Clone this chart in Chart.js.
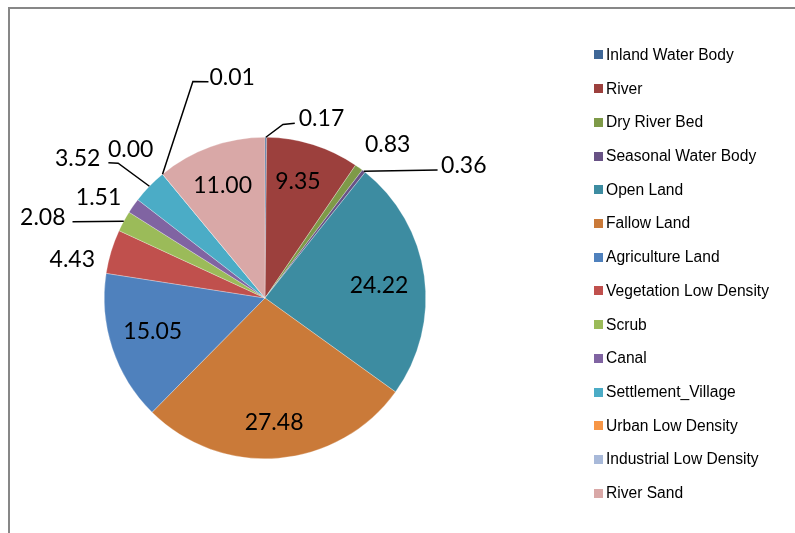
<!DOCTYPE html>
<html>
<head>
<meta charset="utf-8">
<script src="https://cdn.jsdelivr.net/npm/chart.js@4/dist/chart.umd.min.js"></script>
<style>
    html, body { margin: 0; padding: 0; background: #fff; overflow: hidden; }
    #wrap { position: relative; width: 795px; height: 533px; }
    #frame {
        position: absolute; left: 8px; top: 7px; width: 800px; height: 540px;
        border-top: 2px solid #878787; border-left: 2px solid #878787;
        box-sizing: border-box;
    }
    #pie { position: absolute; left: 0; top: 0; }
    #legend {
        position: absolute; left: 594px; top: 38px; margin: 0; padding: 0; list-style: none;
        font-family: "Liberation Sans", Arial, sans-serif; font-size: 15.6px; color: #000;
    }
    #legend li { height: 33.72px; display: flex; align-items: center; white-space: nowrap; }
    #legend span.box { width: 9px; height: 9px; margin-right: 3px; flex: none; }
</style>
</head>
<body>
<div id="wrap">
    <div id="frame"></div>
    <canvas id="pie" width="795" height="533"></canvas>
    <ul id="legend"></ul>
</div>
<script>
// land use classes and their share (%)
const categories = [
    'Inland Water Body', 'River', 'Dry River Bed', 'Seasonal Water Body', 'Open Land',
    'Fallow Land', 'Agriculture Land', 'Vegetation Low Density', 'Scrub', 'Canal',
    'Settlement_Village', 'Urban Low Density', 'Industrial Low Density', 'River Sand'
];
const shares = [0.17, 9.35, 0.83, 0.36, 24.22, 27.48, 15.05, 4.43, 2.08, 1.51, 3.52, 0.00, 0.01, 11.00];
const colors = [
    '#3F6797', '#9C403D', '#7E9A48', '#685285', '#3D8CA1', '#CA7A39',
    '#4F81BD', '#C0504D', '#9BBB59', '#8064A2', '#4BACC6', '#F79646',
    '#A8B9D9', '#D9A8A7'
];

// where each value label sits: k = radius factor, da = degrees off the slice middle
// leader: optional elbow (ek/eda), side = which side of the text the line touches
const labelSpots = [
    { k: 1.175, da: 17.1, leader: { ek: 1.085, eda: 5.6 }, side: 'left', gap: 4 },
    { k: 0.76, da: -1.8 },
    { k: 1.227, da: 2.7 },
    { k: 1.49, da: 18.2, leader: {}, side: 'left', gap: 3.5 },
    { k: 0.714, da: 1.3 },
    { k: 0.77, da: 0.6 },
    { k: 0.727, da: 2.2 },
    { k: 1.224, da: -5.2 },
    { k: 1.473, da: -8.3, leader: {}, side: 'right', gap: 7 },
    { k: 1.214, da: -3.5 },
    { k: 1.458, da: -7.1, leader: { ek: 1.24, eda: -1.5 }, side: 'right', gap: 8 },
    { k: 1.25, da: -2.3 },
    { k: 1.395, da: 31.2, leader: { ek: 1.42, eda: 21.2 }, side: 'left', gap: 1 },
    { k: 0.756, da: -0.6 }
];

const valueLabels = {
    id: 'valueLabels',
    afterDatasetsDraw(chart) {
        const ctx = chart.ctx;
        const meta = chart.getDatasetMeta(0);
        ctx.save();
        ctx.font = '23px Lato';
        ctx.fillStyle = '#000';
        ctx.strokeStyle = '#000';
        ctx.lineWidth = 1.5;
        meta.data.forEach((arc, i) => {
            const p = arc.getProps(['x', 'y', 'startAngle', 'endAngle', 'outerRadius'], true);
            const mid = (p.startAngle + p.endAngle) / 2;
            const spot = labelSpots[i];
            const text = shares[i].toFixed(2);
            const a = mid + spot.da * Math.PI / 180;
            const cx = p.x + p.outerRadius * spot.k * Math.cos(a);
            const cy = p.y + p.outerRadius * spot.k * Math.sin(a);
            const m = ctx.measureText(text);
            const w = m.width;
            const base = cy + (m.actualBoundingBoxAscent - m.actualBoundingBoxDescent) / 2;
            ctx.textAlign = 'center';
            ctx.fillText(text, cx, base);

            if (spot.leader) {
                ctx.beginPath();
                ctx.moveTo(p.x + p.outerRadius * Math.cos(mid), p.y + p.outerRadius * Math.sin(mid));
                if (spot.leader.ek) {
                    const ea = mid + spot.leader.eda * Math.PI / 180;
                    ctx.lineTo(p.x + p.outerRadius * spot.leader.ek * Math.cos(ea),
                               p.y + p.outerRadius * spot.leader.ek * Math.sin(ea));
                }
                const ex = spot.side === 'left' ? cx - w / 2 - spot.gap : cx + w / 2 + spot.gap;
                ctx.lineTo(ex, cy + 5.5);
                ctx.stroke();
            }
        });
        ctx.restore();
    }
};

const chart = new Chart(document.getElementById('pie'), {
    type: 'pie',
    data: {
        labels: categories,
        datasets: [{
            data: shares,
            backgroundColor: colors,
            borderColor: 'rgba(255,255,255,0.55)',
            borderWidth: 0.5
        }]
    },
    options: {
        responsive: false,
        animation: false,
        layout: { padding: { left: 104, right: 369, top: 137, bottom: 74 } },
        plugins: {
            legend: { display: false },
            tooltip: { enabled: false }
        }
    },
    plugins: [valueLabels]
});

// legend on the right
const legendEl = document.getElementById('legend');
categories.forEach((name, i) => {
    const li = document.createElement('li');
    li.innerHTML = '<span class="box" style="background:' + colors[i] + '"></span>' + name;
    legendEl.appendChild(li);
});
</script>
</body>
</html>
